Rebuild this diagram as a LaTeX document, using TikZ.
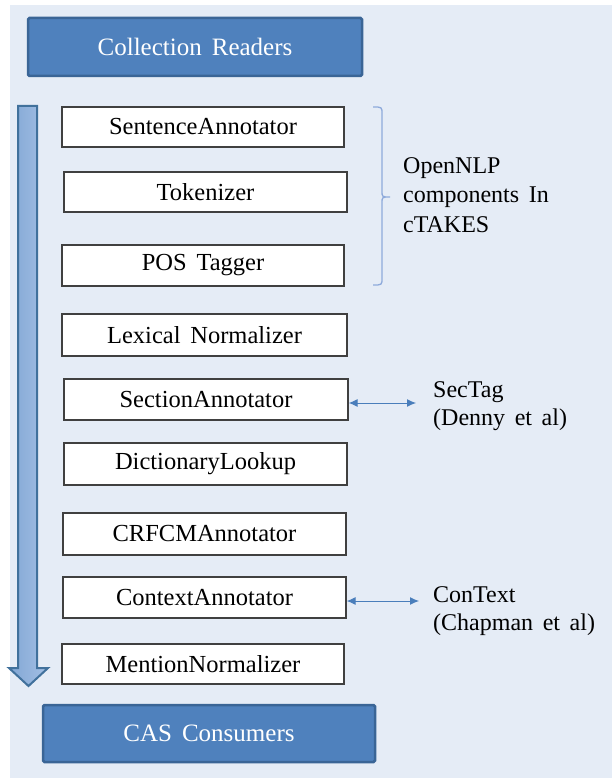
\documentclass[tikz,border=0pt]{standalone}
\usepackage{fontspec}
\setmainfont[WordSpace=1.6]{Liberation Serif}
\usetikzlibrary{arrows.meta}
\definecolor{bgc}{HTML}{E5ECF6}
\definecolor{hdrfill}{HTML}{4F81BD}
\definecolor{hdrdraw}{HTML}{3A6596}
\definecolor{arrfill}{HTML}{8DB0DE}
\definecolor{arrdraw}{HTML}{41719C}
\definecolor{bracec}{HTML}{8EAADB}
\definecolor{linkc}{HTML}{4A7EBB}
\begin{document}
\begin{tikzpicture}[x=1pt,y=-1pt,
  comp/.style={draw=black!75, line width=1.2pt, fill=white, inner sep=0pt,
    font=\fontsize{24.5}{28}\selectfont},
  hdr/.style={draw=hdrdraw, line width=2.5pt, fill=hdrfill, rounded corners=1.5pt,
    text=white, inner sep=0pt, font=\fontsize{25}{29}\selectfont},
  lbl/.style={anchor=base west, inner sep=0pt, font=\fontsize{24}{28}\selectfont},
  link/.style={linkc, line width=1pt,
    {Latex[length=9pt,width=8pt]}-{Latex[length=9pt,width=8pt]}}]
\useasboundingbox (0,0) rectangle (612,778);
\fill[bgc] (10,5) rectangle (612,778);

% flow arrow
\draw[left color=arrfill!85!arrdraw, right color=arrfill!80!white, draw=arrdraw,
  line width=2pt, line join=miter]
  (18,106) -- (37,106) -- (37,668) -- (48,668) -- (28.5,686) -- (9,668) -- (18,668) -- cycle;

% headers
\node[hdr, minimum width=334pt, minimum height=58pt] (cr) at (195,47) {Collection Readers};
\node[hdr, minimum width=332pt, minimum height=57pt] (cas) at (209,733.5) {CAS Consumers};

% components
\node[comp, minimum width=282pt, minimum height=40pt] (sent) at (203,127) {SentenceAnnotator};
\node[comp, minimum width=283pt, minimum height=40pt] (tok) at (205.5,192) {Tokenizer};
\node[comp, minimum width=282pt, minimum height=41pt] (pos) at (203,265.5) {POS Tagger};
\node[comp, minimum width=285pt, minimum height=42pt] (lex) at (204.5,335) {Lexical Normalizer};
\node[comp, minimum width=284pt, minimum height=41pt] (sec) at (206,399.5) {SectionAnnotator};
\node[comp, minimum width=283pt, minimum height=42pt] (dic) at (205.5,464) {DictionaryLookup};
\node[comp, minimum width=283pt, minimum height=42pt] (crf) at (204.5,534) {CRFCMAnnotator};
\node[comp, minimum width=283pt, minimum height=41pt] (ctx) at (204.5,597.5) {ContextAnnotator};
\node[comp, minimum width=282pt, minimum height=40pt] (men) at (203,664) {MentionNormalizer};

% brace
\draw[bracec, line width=1.3pt]
  (373,107) .. controls (382,107) .. (382,114) -- (382,191)
  .. controls (382,197) .. (390,197) .. controls (382,197) .. (382,203)
  -- (382,278) .. controls (382,285) .. (373,285);

\node[lbl] (o1) at (403,173) {OpenNLP};
\node[lbl] (o2) at (403,202) {components In};
\node[lbl] (o3) at (403,232) {cTAKES};

% side links
\coordinate (stp) at (416,403);
\draw[link] (sec.east |- stp) -- (stp);
\node[lbl] (s1) at (433,397) {SecTag};
\node[lbl] (s2) at (433,425) {(Denny et al)};

\coordinate (ctp) at (419,601);
\draw[link] (ctx.east |- ctp) -- (ctp);
\node[lbl] (c1) at (433,602) {ConText};
\node[lbl] (c2) at (433,630) {(Chapman et al)};
\end{tikzpicture}
\end{document}
